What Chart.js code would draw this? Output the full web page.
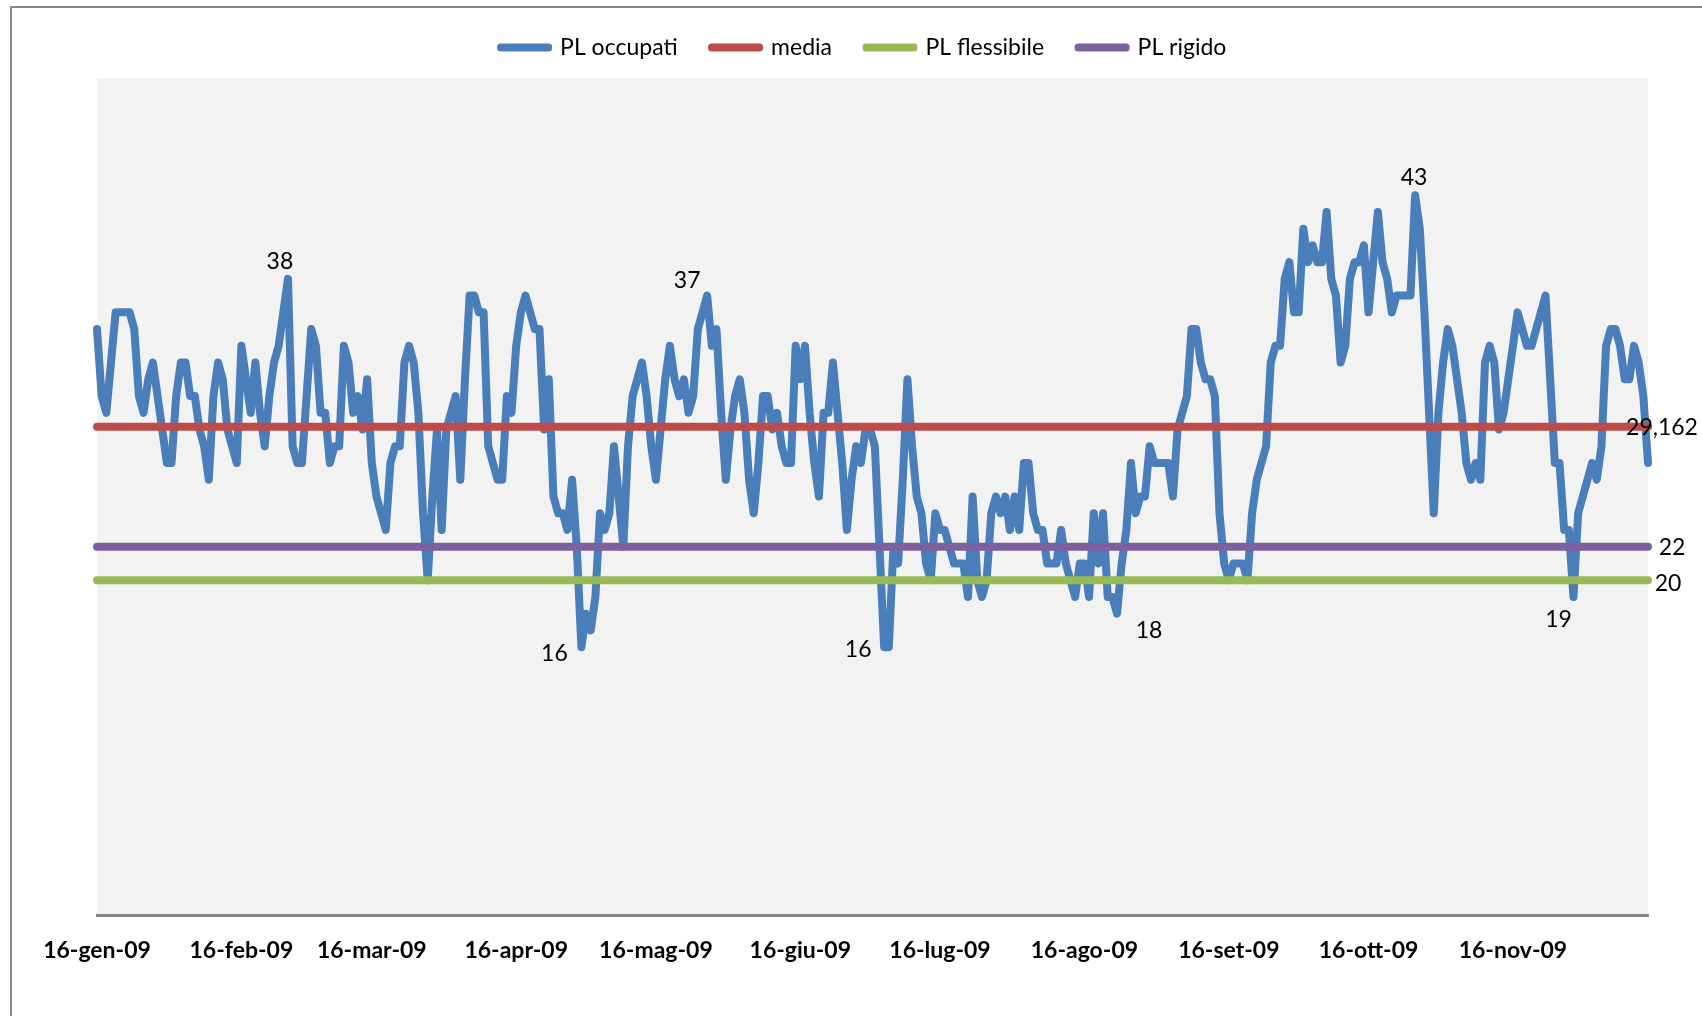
<!DOCTYPE html>
<html lang="it">
<head>
<meta charset="utf-8">
<title>PL occupati 2009</title>
<script src="https://cdn.jsdelivr.net/npm/chart.js@4.4.1/dist/chart.umd.min.js"></script>
<style>
  html, body { margin: 0; padding: 0; background: #ffffff; overflow: hidden; }
  #wrap { position: relative; width: 1702px; height: 1016px; }
  #frame { position: absolute; left: 10px; top: 6px; width: 1800px; height: 1100px;
           border-left: 2px solid #898989; border-top: 2px solid #898989; }
  canvas { position: absolute; left: 0; top: 0; }
</style>
</head>
<body>
<div id="wrap">
  <div id="frame"></div>
  <canvas id="chart" width="1702" height="1016"></canvas>
</div>
<script>
// Posti letto occupati, one value per day starting 16-gen-09
const PL_OCCUPATI = [
  35, 31, 30, 33, 36, 36, 36, 36, 35, 31,
  30, 32, 33, 31, 29, 27, 27, 31, 33, 33,
  31, 31, 29, 28, 26, 31, 33, 32, 29, 28,
  27, 34, 32, 30, 33, 30, 28, 31, 33, 34,
  36, 38, 28, 27, 27, 31, 35, 34, 30, 30,
  27, 28, 28, 34, 33, 30, 31, 29, 32, 27,
  25, 24, 23, 27, 28, 28, 33, 34, 33, 30,
  24, 20, 25, 29, 23, 29, 30, 31, 26, 32,
  37, 37, 36, 36, 28, 27, 26, 26, 31, 30,
  34, 36, 37, 36, 35, 35, 29, 32, 25, 24,
  24, 23, 26, 22, 16, 18, 17, 19, 24, 23,
  24, 28, 25, 22, 28, 31, 32, 33, 31, 28,
  26, 29, 32, 34, 32, 31, 32, 30, 31, 35,
  36, 37, 34, 35, 30, 26, 29, 31, 32, 30,
  26, 24, 27, 31, 31, 29, 30, 28, 27, 27,
  34, 32, 34, 30, 27, 25, 30, 30, 33, 30,
  27, 23, 26, 28, 27, 29, 29, 28, 22, 16,
  16, 22, 21, 26, 32, 28, 25, 24, 21, 20,
  24, 23, 23, 22, 21, 21, 21, 19, 25, 20,
  19, 20, 24, 25, 24, 25, 23, 25, 23, 27,
  27, 24, 23, 23, 21, 21, 21, 23, 21, 20,
  19, 21, 21, 19, 24, 21, 24, 19, 19, 18,
  21, 23, 27, 24, 25, 25, 28, 27, 27, 27,
  27, 25, 29, 30, 31, 35, 35, 33, 32, 32,
  31, 24, 21, 20, 21, 21, 21, 20, 24, 26,
  27, 28, 33, 34, 34, 38, 39, 36, 36, 41,
  39, 40, 39, 39, 42, 38, 37, 33, 34, 38,
  39, 39, 40, 36, 39, 42, 39, 38, 36, 37,
  37, 37, 37, 43, 41, 36, 30, 24, 30, 33,
  35, 34, 32, 30, 27, 26, 27, 26, 33, 34,
  33, 29, 30, 32, 34, 36, 35, 34, 34, 35,
  36, 37, 32, 27, 27, 23, 23, 19, 24, 25,
  26, 27, 26, 28, 34, 35, 35, 34, 32, 32,
  34, 33, 31, 27
];

const MEDIA = 29.162;        // average occupancy
const PL_FLESSIBILE = 20;    // flexible bed threshold
const PL_RIGIDO = 22;        // rigid bed threshold

const SERIES_NAMES = ['PL occupati', 'media', 'PL flessibile', 'PL rigido'];
const SERIES_COLORS = ['#4a7ebb', '#be4b48', '#98b954', '#7d60a0'];

// Days whose value is written next to the curve (peaks and troughs)
const ANNOTATED_DAYS = [41, 104, 131, 169, 219, 283, 317];

const MESI = ['gen', 'feb', 'mar', 'apr', 'mag', 'giu', 'lug', 'ago', 'set', 'ott', 'nov', 'dic'];
const START_YEAR = 2009, START_MONTH = 0, START_DAY = 16;
const TICK_DAY = 16;

const categories = PL_OCCUPATI.map((_, i) => {
  const d = new Date(START_YEAR, START_MONTH, START_DAY + i);
  const dd = String(d.getDate()).padStart(2, '0');
  const yy = String(d.getFullYear()).slice(-2);
  return dd + '-' + MESI[d.getMonth()] + '-' + yy;
});

const flat = v => PL_OCCUPATI.map(() => v);
const fmt = v => String(v).replace('.', ',');

const FONT = 'Lato';

// Label placement around annotated points (pixels, relative to the point)
const PEAK_LABEL_SHIFT = {
  41: [-8, -17], 104: [-27, 6], 131: [-20, -15], 169: [-26, 2],
  219: [32, 17], 283: [-1, -18], 317: [-15, 23]
};
const END_LABEL_SHIFT = { 1: [14, 1], 2: [20, 3], 3: [24, 1] };

const plotBackground = {
  id: 'plotBackground',
  beforeDraw(chart) {
    const { ctx, chartArea: a } = chart;
    ctx.save();
    ctx.fillStyle = '#f2f2f2';
    ctx.fillRect(a.left, a.top, a.right - a.left, a.bottom - a.top);
    ctx.restore();
  }
};

const legendSpacing = {
  id: 'legendSpacing',
  beforeLayout(chart) {
    const lg = chart.legend;
    if (!lg || lg._spaced) return;
    const fit = lg.fit;
    lg.fit = function () { fit.call(this); this.height += 9; };
    const draw = lg.draw;
    lg.draw = function (area) {
      this.ctx.save();
      this.ctx.translate(-9, 0);
      draw.call(this, area);
      this.ctx.restore();
    };
    lg._spaced = true;
  }
};

const valueLabels = {
  id: 'valueLabels',
  afterDatasetsDraw(chart) {
    const ctx = chart.ctx;
    ctx.save();
    ctx.font = '23px ' + FONT;
    ctx.fillStyle = '#000000';
    ctx.textAlign = 'center';
    ctx.textBaseline = 'middle';
    const occ = chart.getDatasetMeta(0).data;
    ANNOTATED_DAYS.forEach(i => {
      const [dx, dy] = PEAK_LABEL_SHIFT[i] || [0, -18];
      ctx.fillText(fmt(PL_OCCUPATI[i]), occ[i].x + dx, occ[i].y + dy);
    });
    [1, 2, 3].forEach(k => {
      const pts = chart.getDatasetMeta(k).data;
      const last = pts.length - 1;
      const [dx, dy] = END_LABEL_SHIFT[k];
      ctx.fillText(fmt(chart.data.datasets[k].data[last]), pts[last].x + dx, pts[last].y + dy);
    });
    ctx.restore();
  }
};

const lineStyle = color => ({
  borderColor: color,
  backgroundColor: color,
  borderWidth: 8,
  pointRadius: 0,
  pointHoverRadius: 0,
  tension: 0,
  borderJoinStyle: 'round',
  borderCapStyle: 'round',
  fill: false
});

new Chart(document.getElementById('chart'), {
  type: 'line',
  data: {
    labels: categories,
    datasets: [
      { label: SERIES_NAMES[0], data: PL_OCCUPATI, order: 1, ...lineStyle(SERIES_COLORS[0]) },
      { label: SERIES_NAMES[1], data: flat(MEDIA), order: 0, ...lineStyle(SERIES_COLORS[1]) },
      { label: SERIES_NAMES[2], data: flat(PL_FLESSIBILE), order: 0, ...lineStyle(SERIES_COLORS[2]) },
      { label: SERIES_NAMES[3], data: flat(PL_RIGIDO), order: 0, ...lineStyle(SERIES_COLORS[3]) }
    ]
  },
  options: {
    responsive: false,
    animation: false,
    events: [],
    layout: { padding: { left: 97, right: 54, top: 2, bottom: 0 } },
    plugins: {
      tooltip: { enabled: false },
      legend: {
        position: 'top',
        align: 'center',
        labels: {
          font: { family: FONT, size: 23 },
          color: '#000000',
          boxWidth: 48,
          boxHeight: 1,
          padding: 34,
          generateLabels(chart) {
            return chart.data.datasets.map((ds, i) => ({
              text: ds.label,
              fillStyle: ds.borderColor,
              strokeStyle: ds.borderColor,
              lineWidth: 7,
              lineJoin: 'round',
              hidden: false,
              datasetIndex: i,
              fontColor: '#000000'
            }));
          }
        }
      }
    },
    scales: {
      x: {
        type: 'category',
        offset: false,
        grid: { display: false, drawTicks: false },
        border: { display: true, color: '#868686', width: 3 },
        ticks: {
          autoSkip: false,
          maxRotation: 0,
          minRotation: 0,
          padding: 22,
          color: '#000000',
          font: { family: FONT, size: 23, weight: 'bold' },
          callback(value) {
            const lab = this.getLabelForValue(value);
            return lab.startsWith(String(TICK_DAY) + '-') ? lab : '';
          }
        },
        afterFit(scale) { scale.height = 101; }
      },
      y: {
        display: false,
        min: 0,
        max: 50
      }
    }
  },
  plugins: [plotBackground, legendSpacing, valueLabels]
});
</script>
</body>
</html>
